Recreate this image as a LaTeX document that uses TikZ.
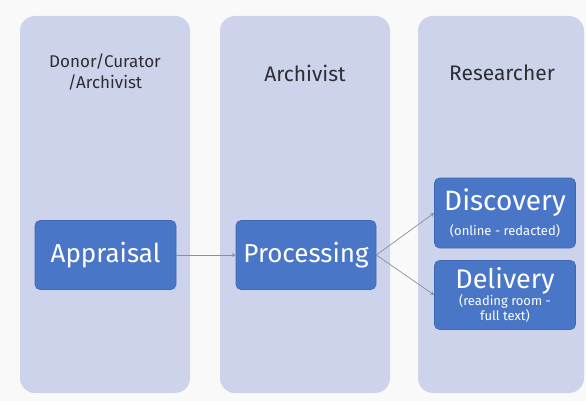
\documentclass[tikz,border=0pt]{standalone}
\usepackage{fontspec}
\setmainfont{Fira Sans}
\usetikzlibrary{arrows.meta}
\definecolor{bgc}{HTML}{F9F9F9}
\definecolor{colc}{HTML}{CDD3EA}
\definecolor{boxc}{HTML}{4A76C8}
\definecolor{boxd}{HTML}{3F67B3}
\definecolor{arrc}{HTML}{8A8F9E}
\definecolor{txtc}{HTML}{2E2E33}
\tikzset{
  lane/.style={fill=colc, draw=none, rounded corners=15pt},
  stepbox/.style={fill=boxc, draw=boxd, line width=0.6pt, rounded corners=5pt, text=white, align=center, inner sep=0pt},
  hdr/.style={text=txtc, align=center},
  flow/.style={draw=arrc, line width=0.7pt, -{Stealth[length=4pt,width=4pt]}}
}
\begin{document}
\begin{tikzpicture}[x=1pt,y=-1pt]
\path[fill=bgc] (0,0) rectangle (586,401);
\useasboundingbox (0,0) rectangle (586,401);
\path[lane] (20,16) rectangle (190,393);
\path[lane] (220,16) rectangle (390,393);
\path[lane] (418,16) rectangle (584,393);
\node[hdr, font=\fontsize{17}{21}\selectfont] (h1) at (105,72) {Donor/Curator\\/Archivist};
\node[hdr, font=\fontsize{21}{24}\selectfont] (h2) at (305,73) {Archivist};
\node[hdr, font=\fontsize{21}{24}\selectfont] (h3) at (502,73) {Researcher};
\node[stepbox, minimum width=141pt, minimum height=69pt, font=\fontsize{26}{28}\selectfont] (app) at (105.5,255) {Appraisal};
\node[stepbox, minimum width=140pt, minimum height=69pt, font=\fontsize{26}{28}\selectfont] (proc) at (306,255) {Processing};
\node[stepbox, minimum width=141pt, minimum height=70pt] (disc) at (505,213) {{\fontsize{28}{28}\selectfont Discovery}\\[8pt]{\fontsize{13}{14}\selectfont (online - redacted)}};
\node[stepbox, minimum width=141pt, minimum height=69pt] (deliv) at (505,295) {{\fontsize{27}{27}\selectfont Delivery}\\[-1pt]{\fontsize{13}{14}\selectfont (reading room -}\\[1pt]{\fontsize{13}{14}\selectfont full text)}};
\draw[flow] (app.east) -- (proc.west);
\draw[flow] (proc.east) -- (disc.west);
\draw[flow] (proc.east) -- (deliv.west);
\end{tikzpicture}
\end{document}
